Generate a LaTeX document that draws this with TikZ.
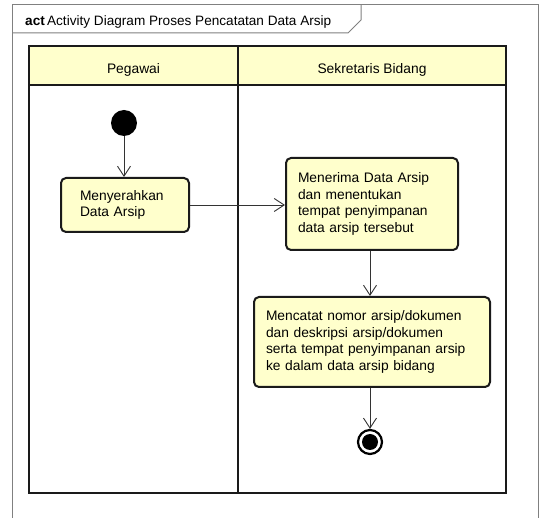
\documentclass[tikz,border=0pt]{standalone}
\usepackage{fontspec}
\setmainfont{Liberation Sans}
\usetikzlibrary{arrows.meta}
\definecolor{actfill}{HTML}{FFFFCC}
\definecolor{framegray}{HTML}{808080}
\definecolor{lineblack}{HTML}{1A1A1A}
\begin{document}
\begin{tikzpicture}[x=1pt,y=-1pt,
  txt/.style={font=\fontsize{13.8}{16.6}\selectfont},
  action/.style={txt, draw=lineblack, line width=2pt, fill=actfill,
    rounded corners=5pt, anchor=north west, align=left, inner ysep=0pt},
  flow/.style={draw=black!80, line width=0.9pt,
    -{Straight Barb[length=10pt,width=13pt,line width=0.9pt]}},
  lane/.style={draw=lineblack, line width=2pt}]
\useasboundingbox (0,0) rectangle (539,518);

% diagram frame with name tab
\draw[framegray, line width=1pt] (12,518) -- (12,5) -- (538,5) -- (538,518);
\draw[framegray, line width=1pt] (12,33) -- (348,33) -- (361,20) -- (361,5);
\node[anchor=base west, inner sep=0pt, font=\fontsize{13.6}{15}\selectfont] (title)
  at (25,25.5) {\textbf{act}\,Activity Diagram Proses Pencatatan Data Arsip};

% swimlanes
\fill[actfill] (29,46) rectangle (506,85);
\draw[lane] (29,85) -- (506,85);
\draw[lane] (238,46) -- (238,493);
\draw[lane] (29,46) rectangle (506,493);
\node[txt, anchor=base, inner sep=0pt] (lanePeg) at (133.5,73.5) {Pegawai};
\node[txt, anchor=base, inner sep=0pt] (laneSek) at (372,73.5) {Sekretaris Bidang};

% nodes
\node[circle, fill=black, minimum size=26pt, inner sep=0pt] (start) at (124,123) {};
\node[action, minimum width=128pt, minimum height=54pt, inner xsep=19pt,
  text width=90pt] (a1) at (60,177) {Menyerahkan\\Data Arsip};
\node[action, minimum width=172pt, minimum height=92pt, inner xsep=12pt,
  text width=148pt] (a2) at (285,157) {Menerima Data Arsip\\dan menentukan\\tempat penyimpanan\\data arsip tersebut};
\node[action, minimum width=236pt, minimum height=90pt, inner xsep=12pt,
  text width=212pt] (a3) at (253,296) {Mencatat nomor arsip/dokumen\\dan deskripsi arsip/dokumen\\serta tempat penyimpanan arsip\\ke dalam data arsip bidang};
\node[circle, draw=black, line width=2.2pt, fill=white, minimum size=24pt,
  inner sep=0pt, path picture={\fill[black] (path picture bounding box.center) circle (8pt);}]
  (final) at (370,442) {};

% control flows
\draw[flow] (start) -- (start |- a1.north);
\draw[flow] (a1.east) -- (a1.east -| a2.west);
\draw[flow] (a2.south -| final) -- (a3.north -| final);
\draw[flow] (a3.south -| final) -- (final.north);
\end{tikzpicture}
\end{document}
